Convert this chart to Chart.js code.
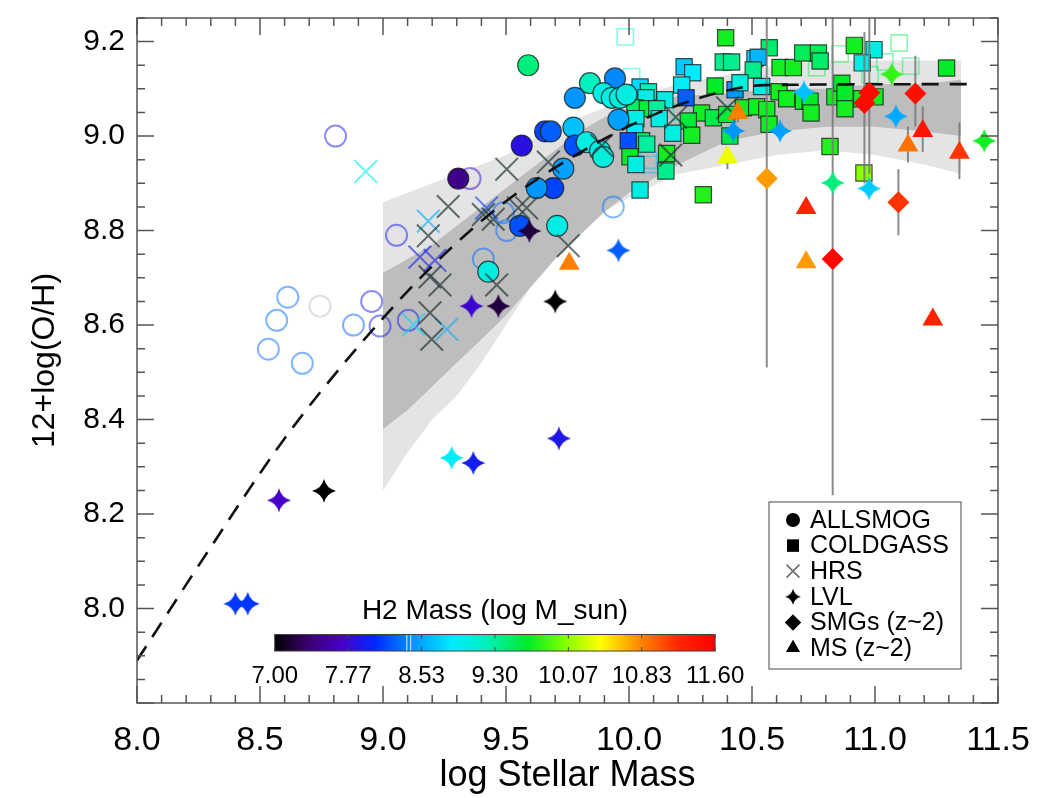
<!DOCTYPE html>
<html lang="en">
<head>
<meta charset="UTF-8">
<title>12+log(O/H) vs log Stellar Mass</title>
<script src="https://cdn.jsdelivr.net/npm/chart.js"></script>
<style>
  body { margin: 0; background: #fff; }
</style>
</head>
<body>
<canvas id="myChart" width="1037" height="798"></canvas>
<script>
// axis ticks
const xTicks = [8.0, 8.5, 9.0, 9.5, 10.0, 10.5, 11.0, 11.5];
const yTicks = [8.0, 8.2, 8.4, 8.6, 8.8, 9.0, 9.2];
const cbarLabels = ['7.00', '7.77', '8.53', '9.30', '10.07', '10.83', '11.60'];
const legendLabels = ['ALLSMOG', 'COLDGASS', 'HRS', 'LVL', 'SMGs (z~2)', 'MS (z~2)'];

// ALLSMOG (filled = detections)
const allX  = [9.59, 9.841, 9.943, 9.78, 9.896, 9.93, 9.963, 9.99, 9.957, 9.774, 9.78, 9.828, 9.882, 9.895, 9.733, 9.659, 9.682, 9.564, 9.306, 9.692, 9.625, 9.557, 9.708, 9.428];
const allY  = [9.15, 9.112, 9.122, 9.081, 9.091, 9.081, 9.081, 9.088, 9.035, 9.018, 8.98, 8.987, 8.969, 8.956, 8.931, 9.01, 9.01, 8.98, 8.91, 8.89, 8.89, 8.81, 8.81, 8.713];
const allH2 = [9.4, 9.2, 8.4, 8.45, 9.0, 9.0, 9.05, 9.0, 8.5, 8.65, 8.2, 9.0, 9.0, 9.05, 8.5, 8.15, 8.25, 7.85, 7.45, 8.15, 8.45, 8.2, 9.0, 9.0];
// ALLSMOG open symbols
const allOpenX  = [8.807, 9.055, 8.613, 8.744, 8.568, 8.534, 8.672, 8.88, 8.954, 8.988, 9.103, 9.354, 9.49, 9.503, 9.408, 9.936];
const allOpenY  = [9.0, 8.79, 8.659, 8.64, 8.61, 8.549, 8.519, 8.60, 8.65, 8.598, 8.61, 8.91, 8.838, 8.80, 8.74, 8.85];
const allOpenH2 = [7.95, 7.95, 8.3, null, 8.3, 8.3, 8.3, 8.25, 7.95, 7.95, 7.95, 7.75, 8.3, 8.3, 8.3, 8.35];

// COLDGASS
const cgX  = [10.393, 10.570, 10.383, 10.417, 10.512, 10.525, 10.505, 10.614, 10.668, 10.706, 10.770, 10.777, 10.916, 10.996, 10.948, 11.291,
              10.431, 10.451, 10.350, 10.539, 10.610, 10.641, 10.295, 10.343, 10.465, 10.519, 10.560, 10.569, 10.709, 10.736, 10.740, 10.837,
              10.865, 10.878, 10.878, 10.946, 11.0, 10.817, 10.955, 10.41, 10.302, 10.224, 10.259, 10.214, 10.232, 10.045, 10.079, 10.069,
              10.146, 10.024, 10.075, 10.113, 10.028, 10.123, 10.241, 10.255, 10.178, 10.397, 10.024, 10.051, 9.997, 10.072, 10.004, 10.028,
              10.153, 10.150, 10.045];
const cgY  = [9.208, 9.187, 9.157, 9.157, 9.164, 9.167, 9.14, 9.145, 9.145, 9.176, 9.176, 9.159, 9.192, 9.183, 9.155, 9.144,
              9.098, 9.113, 9.106, 9.105, 9.094, 9.079, 9.049, 9.039, 9.06, 9.062, 9.056, 9.025, 9.074, 9.074, 9.049, 9.083,
              9.112, 9.091, 9.058, 9.079, 9.083, 8.978, 8.922, 9.0, 8.876, 9.147, 9.134, 9.108, 9.081, 9.104, 9.094, 9.081,
              9.077, 9.06, 9.058, 9.058, 9.037, 9.037, 9.032, 9.002, 9.006, 9.046, 9.008, 8.99, 8.99, 8.983, 8.956, 8.94,
              8.963, 8.926, 8.886];
const cgH2 = [9.7, 9.45, 9.35, 9.35, 8.7, 8.6, 9.35, 9.7, 9.7, 9.5, 9.5, 9.45, 9.7, 9.0, 9.0, 9.65,
              8.45, 9.05, 9.65, 9.0, 9.7, 9.7, 9.7, 9.55, 9.7, 9.7, 9.7, 9.7, 9.7, 9.65, 9.7, 9.7,
              9.65, 9.65, 9.7, 9.7, 9.7, 9.75, 10.05, 9.55, 9.75, 8.7, 8.85, 8.9, 8.25, 8.75, 9.2, 9.0,
              9.0, 9.45, 9.6, 9.3, 9.0, 9.0, 9.6, 9.7, 9.0, 9.6, 8.85, 9.45, 8.2, 9.3, 9.65, 9.0,
              9.7, 9.35, 9.0];
// COLDGASS open symbols
const cgOpenX  = [9.985, 10.011, 10.214, 10.079, 10.085, 10.858, 10.763, 11.04, 11.098, 11.145, 10.98];
const cgOpenY  = [9.21, 9.126, 9.051, 8.949, 8.94, 9.174, 9.145, 9.157, 9.197, 9.148, 9.13];
const cgOpenH2 = [9.2, 9.1, 9.2, 8.6, 8.6, 9.6, 9.6, 9.5, 9.5, 9.5, 9.5];

// HRS (grey = no H2 colour, coloured = with H2)
const hrsX = [9.265, 9.503, 9.184, 9.408, 9.448, 9.55, 9.191, 9.232, 9.462, 9.191, 9.198, 9.672, 9.889, 9.584, 9.753, 10.17, 10.19, 10.40];
const hrsY = [8.851, 8.930, 8.789, 8.834, 8.824, 8.848, 8.702, 8.685, 8.685, 8.626, 8.57, 8.945, 8.98, 8.848, 8.768, 8.96, 9.04, 9.06];
const hrsColX  = [8.93, 9.184, 9.421, 9.15, 9.211, 9.259, 9.124];
const hrsColY  = [8.925, 8.82, 8.848, 8.744, 8.737, 8.591, 8.601];
const hrsColH2 = [8.95, 8.55, 8.1, 7.95, 7.95, 8.55, 8.75];

// LVL
const lvlX  = [8.40, 8.45, 8.577, 8.76, 9.279, 9.367, 9.36, 9.469, 9.70, 9.715, 9.595, 9.957, 10.424, 10.614, 10.711, 11.068, 11.085, 11.444, 10.828, 10.976];
const lvlY  = [8.01, 8.01, 8.229, 8.249, 8.319, 8.308, 8.64, 8.64, 8.65, 8.36, 8.799, 8.758, 9.011, 9.011, 9.093, 9.131, 9.042, 8.99, 8.901, 8.889];
const lvlH2 = [8.1, 8.1, 7.7, 7.0, 8.9, 7.95, 7.75, 7.2, 7.0, 7.9, 7.2, 8.25, 8.45, 8.5, 8.65, 9.8, 8.55, 9.7, 9.4, 8.7];

// SMGs (z~2) with error bars
const smgX  = [10.977, 10.957, 11.164, 10.56, 11.095, 10.828];
const smgY  = [9.092, 9.07, 9.09, 8.91, 8.86, 8.74];
const smgH2 = [11.5, 11.5, 11.45, 10.75, 11.15, 11.55];
const smgLo = [8.92, 8.90, 9.02, 8.51, 8.79, 8.24];
const smgHi = [9.27, 9.22, 9.17, 9.27, 8.93, 9.27];

// MS (z~2) with error bars
const msX  = [10.442, 10.40, 11.194, 11.134, 11.343, 10.72, 10.72, 11.235, 9.757];
const msY  = [9.049, 8.956, 9.011, 8.98, 8.965, 8.848, 8.733, 8.612, 8.73];
const msH2 = [10.85, 10.35, 11.4, 10.9, 11.15, 11.25, 10.75, 11.25, 10.85];
const msLo = [9.029, 8.93, 8.966, 8.944, 8.909, null, null, null, null];
const msHi = [9.077, 8.97, 9.063, 9.02, 9.029, null, null, null, null];

// shaded scatter bands
const lightX  = [9.0, 9.05, 9.1, 9.2, 9.3, 9.4, 9.5, 9.6, 9.7, 9.8, 9.9, 10.0, 10.2, 10.4, 10.6, 10.8, 11.0, 11.2, 11.35];
const lightHi = [8.86, 8.87, 8.88, 8.90, 8.92, 8.94, 8.96, 8.99, 9.02, 9.04, 9.06, 9.08, 9.11, 9.13, 9.15, 9.16, 9.16, 9.16, 9.16];
const lightLo = [8.25, 8.29, 8.33, 8.40, 8.45, 8.52, 8.60, 8.68, 8.74, 8.79, 8.84, 8.87, 8.92, 8.94, 8.96, 8.97, 8.96, 8.94, 8.92];
const darkX  = [9.0, 9.1, 9.2, 9.3, 9.4, 9.5, 9.6, 9.7, 9.8, 9.9, 10.0, 10.2, 10.4, 10.6, 10.8, 11.0, 11.2, 11.35];
const darkHi = [8.71, 8.74, 8.77, 8.81, 8.85, 8.89, 8.93, 8.97, 9.01, 9.04, 9.06, 9.085, 9.09, 9.10, 9.10, 9.11, 9.11, 9.12];
const darkLo = [8.38, 8.42, 8.47, 8.52, 8.57, 8.62, 8.68, 8.74, 8.79, 8.84, 8.88, 8.94, 8.99, 9.01, 9.02, 9.02, 9.01, 9.00];

// dashed relation
const fitX = [8.0, 8.3, 8.6, 8.9, 9.2, 9.5, 9.8, 10.1, 10.35, 10.55, 11.38];
const fitY = [7.89, 8.13, 8.36, 8.555, 8.725, 8.862, 8.965, 9.045, 9.09, 9.108, 9.11];

// colour table (black -> purple -> blue -> cyan -> green -> yellow -> red)
const cmapStops = [
  [7.0, [0, 0, 0]], [7.35, [60, 0, 112]], [7.7, [70, 0, 200]], [8.05, [0, 40, 255]],
  [8.45, [0, 150, 255]], [8.85, [0, 235, 255]], [9.2, [0, 240, 190]], [9.65, [0, 235, 40]],
  [10.0, [120, 255, 0]], [10.4, [255, 255, 0]], [10.8, [255, 140, 0]], [11.2, [255, 40, 0]], [11.6, [255, 0, 0]]
];
const CMIN = 7.0, CMAX = 11.6;

function cmap(v, a) {
  if (a === undefined) a = 1;
  if (v === null || v === undefined) return `rgba(190,190,190,${a})`;
  let c = cmapStops[cmapStops.length - 1][1];
  for (let i = 0; i < cmapStops.length - 1; i++) {
    const [v0, c0] = cmapStops[i], [v1, c1] = cmapStops[i + 1];
    if (v <= v1) {
      const t = Math.max(0, (v - v0) / (v1 - v0));
      c = c0.map((k, j) => Math.round(k + (c1[j] - k) * t));
      break;
    }
  }
  return `rgba(${c[0]},${c[1]},${c[2]},${a})`;
}

// 4 pointed star for LVL
const starCache = {};
function starImg(color, r) {
  const key = color + '_' + r;
  if (starCache[key]) return starCache[key];
  const c = document.createElement('canvas');
  c.width = c.height = 2 * r + 2;
  const g = c.getContext('2d');
  const m = r + 1, k = r * 0.2;
  g.fillStyle = color;
  g.beginPath();
  g.moveTo(m, m - r);
  g.quadraticCurveTo(m + k, m - k, m + r, m);
  g.quadraticCurveTo(m + k, m + k, m, m + r);
  g.quadraticCurveTo(m - k, m + k, m - r, m);
  g.quadraticCurveTo(m - k, m - k, m, m - r);
  g.fill();
  starCache[key] = c;
  return c;
}

const pts = (xs, ys) => xs.map((v, i) => ({x: v, y: ys[i]}));
const pick = (arr, f) => c => f(arr[c.dataIndex]);

const FONT = '"Liberation Sans", Arial, Helvetica, sans-serif';
Chart.defaults.font.family = FONT;
Chart.defaults.color = '#000';

const FIT_INDEX = 4;

// error bars, box ticks, colour bar and symbol legend
const decor = {
  id: 'decor',
  beforeDatasetDraw(chart, args) {
    if (args.index !== FIT_INDEX) return;
    const {ctx, chartArea: a, scales: {x, y}} = chart;
    ctx.save();
    ctx.beginPath();
    ctx.rect(a.left, a.top, a.right - a.left, a.bottom - a.top);
    ctx.clip();
    ctx.strokeStyle = 'rgba(120,120,120,0.85)';
    ctx.lineWidth = 2;
    const bars = (xs, lo, hi) => xs.forEach((v, i) => {
      if (lo[i] === null) return;
      const px = x.getPixelForValue(v);
      ctx.beginPath();
      ctx.moveTo(px, y.getPixelForValue(lo[i]));
      ctx.lineTo(px, y.getPixelForValue(hi[i]));
      ctx.stroke();
    });
    bars(smgX, smgLo, smgHi);
    bars(msX, msLo, msHi);
    ctx.restore();
  },
  afterDatasetsDraw(chart) {
    const {ctx, chartArea: a, scales: {x, y}} = chart;
    ctx.save();
    // frame with inward ticks
    ctx.strokeStyle = '#555';
    ctx.lineWidth = 1.5;
    ctx.strokeRect(a.left, a.top, a.right - a.left, a.bottom - a.top);
    ctx.beginPath();
    for (let i = 0; i <= 35; i++) {
      const px = x.getPixelForValue(8 + i * 0.1);
      const len = i % 5 === 0 ? 17 : 8;
      ctx.moveTo(px, a.bottom); ctx.lineTo(px, a.bottom - len);
      ctx.moveTo(px, a.top); ctx.lineTo(px, a.top + len);
    }
    for (let i = 0; i <= 29; i++) {
      const v = 7.8 + i * 0.05;
      const py = y.getPixelForValue(v);
      const len = Math.abs(v * 5 - Math.round(v * 5)) < 1e-6 ? 17 : 8;
      ctx.moveTo(a.left, py); ctx.lineTo(a.left + len, py);
      ctx.moveTo(a.right, py); ctx.lineTo(a.right - len, py);
    }
    ctx.stroke();

    // colour bar
    const cx0 = x.getPixelForValue(8.56), cx1 = x.getPixelForValue(10.35);
    const cy0 = y.getPixelForValue(7.945), cy1 = y.getPixelForValue(7.91);
    const grad = ctx.createLinearGradient(cx0, 0, cx1, 0);
    cmapStops.forEach(([v]) => grad.addColorStop((v - CMIN) / (CMAX - CMIN), cmap(v)));
    ctx.fillStyle = grad;
    ctx.fillRect(cx0, cy0, cx1 - cx0, cy1 - cy0);
    ctx.strokeStyle = 'rgba(255,255,255,0.9)';
    ctx.lineWidth = 1;
    [8.38, 8.42].forEach(v => {
      const px = cx0 + (v - CMIN) / (CMAX - CMIN) * (cx1 - cx0);
      ctx.beginPath(); ctx.moveTo(px, cy0); ctx.lineTo(px, cy1); ctx.stroke();
    });
    ctx.strokeStyle = '#444';
    ctx.strokeRect(cx0, cy0, cx1 - cx0, cy1 - cy0);
    ctx.beginPath();
    cbarLabels.forEach((t, i) => {
      const px = cx0 + i / (cbarLabels.length - 1) * (cx1 - cx0);
      ctx.moveTo(px, cy0); ctx.lineTo(px, cy0 + 4);
      ctx.moveTo(px, cy1); ctx.lineTo(px, cy1 - 4);
    });
    ctx.stroke();
    ctx.fillStyle = '#000';
    ctx.textAlign = 'center';
    ctx.textBaseline = 'middle';
    ctx.font = '28px ' + FONT;
    ctx.fillText('H2 Mass (log M_sun)', (cx0 + cx1) / 2, cy0 - 23);
    ctx.font = '24px ' + FONT;
    cbarLabels.forEach((t, i) => {
      const px = cx0 + i / (cbarLabels.length - 1) * (cx1 - cx0);
      ctx.fillText(t, px, cy1 + 25);
    });

    // symbol legend
    const bw = 192, bh = 167;
    const bx = a.right - 37 - bw, by = a.bottom - 34 - bh;
    ctx.fillStyle = '#fff';
    ctx.fillRect(bx, by, bw, bh);
    ctx.strokeStyle = '#666';
    ctx.lineWidth = 1.2;
    ctx.strokeRect(bx, by, bw, bh);
    const styles = ['circle', 'rect', 'crossRot', 'star4', 'rectRot', 'triangle'];
    const sizes = [7, 8.5, 9, 8, 8, 8];
    ctx.font = '25px ' + FONT;
    ctx.textAlign = 'left';
    legendLabels.forEach((lab, i) => {
      const ly = by + 18 + i * 25.6;
      const lx = bx + 24;
      if (styles[i] === 'star4') {
        const img = starImg('#000', sizes[i]);
        ctx.drawImage(img, lx - img.width / 2, ly - img.height / 2);
      } else {
        Chart.helpers.drawPoint(ctx, {
          pointStyle: styles[i], radius: sizes[i], rotation: 0,
          borderWidth: styles[i] === 'crossRot' ? 1.5 : 0
        }, lx, ly);
        ctx.fillStyle = '#000';
        ctx.strokeStyle = '#777';
        ctx.lineWidth = 1.5;
        if (styles[i] === 'crossRot') ctx.stroke(); else ctx.fill();
      }
      ctx.fillStyle = '#000';
      ctx.fillText(lab, bx + 41, ly + 1);
    });
    ctx.restore();
  }
};

const ctx = document.getElementById('myChart');

new Chart(ctx, {
  type: 'scatter',
  data: {
    datasets: [
      { type: 'line', data: pts(lightX, lightHi), fill: '+1', backgroundColor: '#e4e4e4', borderWidth: 0, pointRadius: 0, order: 30 },
      { type: 'line', data: pts(lightX, lightLo), fill: false, borderWidth: 0, pointRadius: 0, order: 31 },
      { type: 'line', data: pts(darkX, darkHi), fill: '+1', backgroundColor: '#bdbdbd', borderWidth: 0, pointRadius: 0, order: 28 },
      { type: 'line', data: pts(darkX, darkLo), fill: false, borderWidth: 0, pointRadius: 0, order: 29 },
      { type: 'line', data: pts(fitX, fitY), fill: false, borderColor: '#111', borderWidth: 2.6, borderDash: [17, 11],
        pointRadius: 0, cubicInterpolationMode: 'monotone', order: 14 },
      { label: 'ALLSMOG open', data: pts(allOpenX, allOpenY), pointStyle: 'circle', pointRadius: 10.5,
        backgroundColor: 'rgba(0,0,0,0)', borderColor: pick(allOpenH2, v => cmap(v, 0.5)), borderWidth: 2, order: 22 },
      { label: 'COLDGASS open', data: pts(cgOpenX, cgOpenY), pointStyle: 'rect', pointRadius: 11.5,
        backgroundColor: 'rgba(0,0,0,0)', borderColor: pick(cgOpenH2, v => cmap(v, 0.45)), borderWidth: 1.6, order: 22 },
      { label: 'COLDGASS', data: pts(cgX, cgY), pointStyle: 'rect', pointRadius: 11.5,
        backgroundColor: pick(cgH2, v => cmap(v)), borderColor: 'rgba(20,20,20,0.75)', borderWidth: 1.2, order: 20 },
      { label: 'ALLSMOG', data: pts(allX, allY), pointStyle: 'circle', pointRadius: 10.5,
        backgroundColor: pick(allH2, v => cmap(v)), borderColor: 'rgba(20,20,20,0.75)', borderWidth: 1.2, order: 18 },
      { label: 'HRS', data: pts(hrsX, hrsY), pointStyle: 'crossRot', pointRadius: 16,
        borderColor: 'rgba(35,55,55,0.7)', borderWidth: 2, order: 16 },
      { label: 'HRS col', data: pts(hrsColX, hrsColY), pointStyle: 'crossRot', pointRadius: 16,
        borderColor: pick(hrsColH2, v => cmap(v, 0.6)), borderWidth: 2, order: 16 },
      { label: 'LVL', data: pts(lvlX, lvlY), pointRadius: 11,
        pointStyle: c => starImg(cmap(lvlH2[c.dataIndex] ?? 8), 12), order: 6 },
      { label: 'SMGs', data: pts(smgX, smgY), pointStyle: 'rectRot', pointRadius: 11,
        backgroundColor: pick(smgH2, v => cmap(v)), borderWidth: 0, order: 5 },
      { label: 'MS', data: pts(msX, msY), pointStyle: 'triangle', pointRadius: 12,
        backgroundColor: pick(msH2, v => cmap(v)), borderWidth: 0, order: 4 }
    ]
  },
  options: {
    responsive: false,
    animation: false,
    layout: { padding: { top: 7, right: 39, left: 0, bottom: 0 } },
    plugins: { legend: { display: false }, tooltip: { enabled: false } },
    scales: {
      x: {
        type: 'linear', min: 8.0, max: 11.5,
        afterBuildTicks: s => { s.ticks = xTicks.map(v => ({value: v})); },
        afterFit: s => { s.height = 95; s.paddingLeft = 0; s.paddingRight = 0; },
        grid: { display: false }, border: { display: false },
        ticks: { autoSkip: false, maxRotation: 0, padding: 9, font: { size: 34 }, callback: v => v.toFixed(1) },
        title: { display: true, text: 'log Stellar Mass', font: { size: 36 }, padding: { bottom: 0 } }
      },
      y: {
        type: 'linear', min: 7.8, max: 9.25,
        afterBuildTicks: s => { s.ticks = yTicks.map(v => ({value: v})); },
        afterFit: s => { s.width = 137; s.paddingTop = 0; s.paddingBottom = 0; },
        grid: { display: false }, border: { display: false },
        ticks: { autoSkip: false, padding: 4, font: { size: 30 }, callback: v => v.toFixed(1) },
        title: { display: true, text: '12+log(O/H)', font: { size: 32 }, padding: { top: 26 } }
      }
    }
  },
  plugins: [decor]
});
</script>
</body>
</html>
